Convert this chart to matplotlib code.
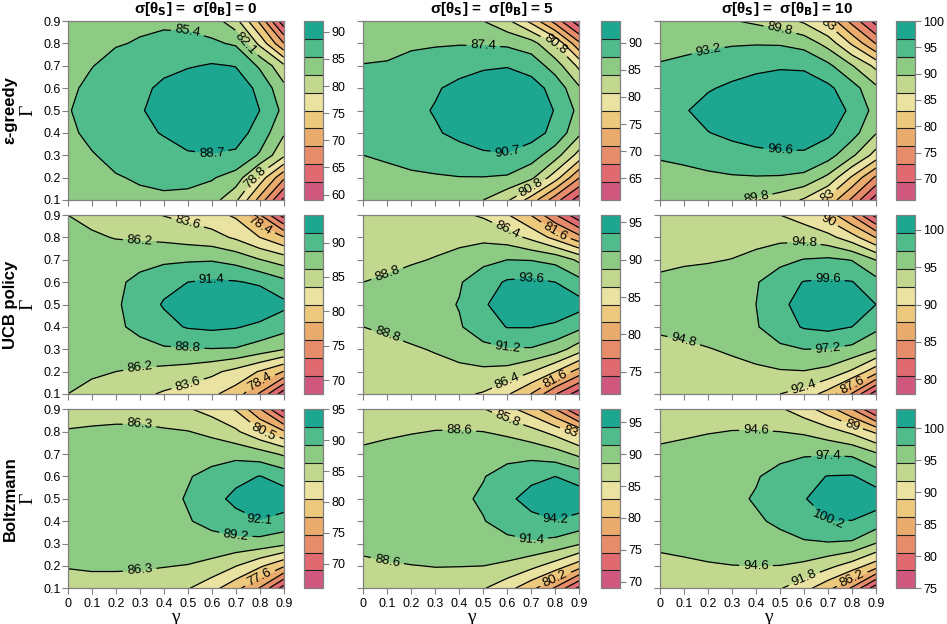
import numpy as np
import matplotlib
matplotlib.use('Agg')
import matplotlib.pyplot as plt

# grid axes
gamma = [0.0, 0.1, 0.2, 0.3, 0.4, 0.5, 0.6, 0.7, 0.8, 0.9]
Gamma = [0.1, 0.2, 0.3, 0.4, 0.5, 0.6, 0.7, 0.8, 0.9]

# rows = Gamma 0.1 .. 0.9, cols = gamma 0 .. 0.9
greedy_s0 = [
    [83.0, 83.8, 84.4, 84.8, 84.9, 84.6, 83.5, 79.5, 71.0, 61.5],
    [83.6, 84.5, 85.2, 85.7, 86.1, 86.2, 85.7, 84.0, 77.5, 69.5],
    [84.3, 85.2, 86.2, 86.9, 87.6, 88.3, 88.5, 88.2, 85.0, 79.5],
    [84.8, 86.1, 87.2, 88.0, 88.9, 90.3, 90.9, 90.0, 87.5, 82.5],
    [85.2, 86.5, 87.5, 88.4, 89.9, 91.3, 92.0, 91.0, 88.7, 84.6],
    [84.8, 86.1, 87.2, 87.9, 89.4, 90.8, 91.4, 90.4, 88.0, 83.0],
    [84.2, 85.3, 86.3, 87.0, 87.8, 88.4, 89.0, 88.6, 84.9, 79.5],
    [83.6, 84.6, 85.2, 85.6, 86.0, 86.1, 85.9, 85.0, 78.0, 69.0],
    [83.0, 84.0, 84.6, 84.9, 85.0, 84.8, 83.8, 80.0, 71.5, 60.0],
]
greedy_s5 = [
    [85.3, 85.7, 85.9, 85.8, 85.2, 84.1, 81.3, 76.0, 69.0, 62.5],
    [86.3, 86.6, 86.9, 87.1, 87.3, 87.3, 87.0, 84.8, 79.0, 71.0],
    [87.4, 87.8, 88.4, 88.9, 89.6, 90.2, 90.4, 89.0, 85.5, 79.5],
    [88.2, 88.9, 89.7, 90.4, 91.4, 92.5, 92.8, 92.0, 89.8, 84.8],
    [88.4, 89.1, 90.0, 90.9, 92.2, 93.3, 94.0, 93.0, 90.5, 86.5],
    [88.0, 88.7, 89.6, 90.4, 91.5, 92.6, 93.0, 92.0, 89.6, 84.5],
    [87.5, 87.6, 88.4, 88.9, 89.6, 90.2, 90.5, 89.5, 85.8, 80.0],
    [86.4, 86.7, 86.9, 87.1, 87.2, 87.1, 86.8, 85.5, 80.5, 71.5],
    [85.5, 86.0, 86.2, 86.0, 85.3, 84.1, 81.5, 76.5, 69.5, 62.0],
]
greedy_s10 = [
    [90.5, 90.6, 90.4, 90.0, 89.4, 88.2, 86.0, 82.0, 75.5, 67.5],
    [91.8, 92.2, 92.6, 92.9, 93.0, 92.9, 92.3, 89.0, 82.5, 75.5],
    [93.6, 94.0, 94.6, 95.2, 95.8, 96.1, 96.2, 94.6, 90.5, 85.0],
    [94.2, 95.3, 96.5, 97.4, 98.0, 98.3, 98.0, 97.2, 94.6, 90.0],
    [95.0, 96.3, 97.8, 98.8, 99.6, 100.0, 99.6, 98.4, 96.0, 92.0],
    [94.5, 95.5, 96.3, 97.2, 98.0, 98.5, 98.3, 97.3, 94.6, 90.5],
    [93.5, 94.0, 94.6, 95.2, 95.8, 96.2, 96.1, 94.0, 90.0, 85.5],
    [91.8, 92.2, 92.6, 92.9, 93.0, 92.9, 92.0, 88.5, 82.5, 76.0],
    [90.8, 90.8, 90.6, 90.0, 89.2, 88.0, 85.8, 82.0, 75.0, 68.0],
]
ucb_s0 = [
    [86.2, 85.6, 85.0, 84.2, 83.3, 82.5, 81.5, 79.8, 75.5, 69.0],
    [86.7, 86.5, 86.2, 85.8, 85.4, 85.0, 84.2, 82.8, 80.8, 78.3],
    [86.6, 87.0, 87.4, 87.9, 88.5, 88.6, 88.7, 88.6, 87.6, 86.3],
    [86.8, 87.4, 88.3, 89.5, 90.6, 91.6, 91.9, 91.6, 90.8, 89.8],
    [87.0, 87.6, 88.4, 90.1, 91.6, 92.8, 93.6, 94.0, 93.4, 92.0],
    [86.8, 87.4, 88.2, 89.6, 90.7, 91.4, 91.8, 91.6, 91.0, 89.5],
    [86.6, 87.0, 87.4, 87.8, 88.3, 88.5, 88.6, 87.9, 86.3, 85.0],
    [86.6, 86.5, 86.1, 85.9, 85.6, 85.1, 84.6, 83.2, 81.0, 78.6],
    [86.2, 85.6, 85.0, 84.3, 83.5, 82.8, 81.9, 80.6, 76.0, 69.5],
]
ucb_s5 = [
    [86.8, 86.9, 87.0, 87.0, 86.8, 86.2, 84.3, 81.5, 77.0, 73.0],
    [87.3, 87.5, 87.7, 87.9, 88.2, 88.3, 88.0, 86.5, 84.0, 80.5],
    [87.8, 88.1, 88.5, 89.0, 89.7, 90.6, 91.0, 91.0, 90.0, 87.5],
    [88.8, 89.2, 89.8, 90.4, 91.0, 92.4, 93.7, 93.7, 93.0, 91.8],
    [89.3, 89.8, 90.3, 90.6, 91.3, 93.3, 94.8, 95.6, 96.0, 94.5],
    [88.8, 89.2, 89.8, 90.4, 91.0, 92.5, 93.9, 94.1, 93.6, 92.0],
    [87.8, 88.1, 88.5, 88.95, 89.6, 90.6, 91.2, 91.1, 90.5, 88.3],
    [87.3, 87.5, 87.7, 87.9, 88.1, 88.2, 87.6, 85.8, 83.2, 80.0],
    [86.8, 86.9, 87.0, 87.0, 86.8, 86.1, 84.2, 81.5, 77.0, 72.5],
]
ucb_s10 = [
    [92.9, 93.0, 93.1, 93.0, 92.8, 92.4, 91.4, 89.0, 85.0, 79.0],
    [93.5, 93.7, 93.9, 94.1, 94.3, 94.6, 94.7, 94.1, 92.0, 88.5],
    [94.1, 94.3, 94.7, 95.1, 95.8, 96.7, 97.2, 97.1, 96.6, 94.95],
    [95.2, 95.5, 95.8, 96.3, 97.0, 98.6, 99.8, 100.2, 99.6, 97.8],
    [95.7, 96.0, 96.3, 96.7, 97.2, 99.0, 100.6, 101.5, 101.2, 99.6],
    [95.2, 95.5, 95.8, 96.3, 97.0, 98.6, 99.7, 99.9, 99.7, 98.0],
    [94.3, 94.5, 94.6, 94.85, 95.4, 96.5, 97.3, 97.6, 97.1, 94.7],
    [93.4, 93.6, 93.8, 93.9, 94.1, 94.2, 94.1, 93.2, 91.0, 87.5],
    [93.0, 93.1, 93.2, 93.2, 93.0, 92.4, 91.2, 89.0, 85.0, 79.5],
]
boltz_s0 = [
    [85.6, 85.7, 85.7, 85.5, 84.9, 83.6, 81.5, 78.5, 74.5, 67.5],
    [86.4, 86.5, 86.5, 86.5, 86.4, 86.2, 85.4, 83.5, 81.0, 78.0],
    [86.8, 86.9, 87.0, 87.2, 87.5, 87.8, 88.1, 88.2, 88.0, 87.0],
    [86.9, 87.1, 87.4, 87.7, 88.2, 89.0, 90.0, 91.0, 91.9, 91.2],
    [87.0, 87.3, 87.6, 87.9, 88.4, 89.4, 91.0, 92.9, 95.0, 93.5],
    [86.9, 87.1, 87.4, 87.7, 88.2, 89.0, 90.0, 91.2, 92.2, 91.0],
    [86.8, 86.9, 87.1, 87.3, 87.6, 87.9, 88.2, 88.4, 87.6, 85.9],
    [86.4, 86.5, 86.6, 86.7, 86.6, 86.4, 85.6, 83.9, 81.0, 78.0],
    [85.6, 85.7, 85.7, 85.5, 84.8, 83.7, 82.3, 80.3, 75.0, 68.0],
]
boltz_s5 = [
    [87.6, 87.8, 87.9, 87.8, 87.3, 86.0, 84.0, 81.0, 77.0, 71.0],
    [88.2, 88.4, 88.55, 88.65, 88.65, 88.6, 88.0, 86.6, 84.5, 81.5],
    [89.1, 89.3, 89.5, 89.7, 90.0, 90.4, 90.8, 91.0, 90.4, 88.9],
    [89.5, 89.7, 89.9, 90.2, 90.7, 91.3, 92.3, 93.3, 94.0, 93.3],
    [89.8, 90.0, 90.2, 90.5, 91.0, 91.7, 93.5, 95.4, 97.0, 95.8],
    [89.5, 89.7, 89.9, 90.2, 90.7, 91.3, 92.3, 93.4, 94.2, 93.0],
    [89.0, 89.2, 89.4, 89.7, 90.0, 90.3, 90.7, 90.6, 89.8, 88.0],
    [88.0, 88.3, 88.5, 88.65, 88.7, 88.6, 88.0, 86.8, 84.8, 82.0],
    [87.6, 87.8, 87.9, 87.8, 87.3, 86.0, 84.0, 81.5, 77.5, 71.5],
]
boltz_s10 = [
    [93.5, 93.7, 93.8, 93.7, 93.1, 92.0, 90.0, 87.0, 83.0, 76.0],
    [94.0, 94.2, 94.4, 94.55, 94.6, 94.55, 94.0, 92.6, 90.5, 87.5],
    [95.0, 95.2, 95.5, 95.8, 96.2, 96.7, 97.1, 97.2, 97.0, 94.5],
    [95.5, 95.8, 96.2, 96.6, 97.1, 97.8, 98.8, 100.1, 100.1, 99.0],
    [95.8, 96.1, 96.5, 96.9, 97.6, 98.7, 100.0, 101.8, 103.0, 101.5],
    [95.5, 95.8, 96.2, 96.6, 97.2, 98.3, 99.4, 100.3, 100.4, 99.0],
    [95.0, 95.2, 95.5, 95.8, 96.2, 96.7, 97.1, 97.2, 97.0, 95.0],
    [94.1, 94.3, 94.5, 94.65, 94.7, 94.6, 94.2, 93.0, 91.2, 88.5],
    [93.5, 93.7, 93.8, 93.7, 93.2, 92.2, 90.3, 87.5, 83.5, 77.5],
]

# colour range (10 bands) of every panel
zlims = [
    [(59.0, 92.0), (61.0, 94.0), (66.0, 100.0)],
    [(68.0, 94.0), (72.0, 96.0), (78.0, 102.0)],
    [(66.0, 95.0), (69.0, 97.0), (75.0, 103.0)],
]

row_names = ['ε-greedy', 'UCB policy', 'Boltzmann']
sigmas = ['0', '5', '10']
grids = [[greedy_s0, greedy_s5, greedy_s10],
         [ucb_s0, ucb_s5, ucb_s10],
         [boltz_s0, boltz_s5, boltz_s10]]

# where the contour labels sit: (level index, gamma, Gamma) -- layout only
label_spots = [
    [[(8, 0.52, 0.838), (9, 0.63, 0.31), (7, 0.746, 0.80), (6, 0.77, 0.167)],
     [(8, 0.52, 0.786), (9, 0.616, 0.338), (6, 0.81, 0.756), (6, 0.706, 0.167)],
     [(7, 0.472, 0.86), (8, 0.18, 0.748), (5, 0.736, 0.867), (9, 0.52, 0.331),
      (7, 0.396, 0.122), (5, 0.736, 0.16)]],
    [[(6, 0.475, 0.848), (4, 0.787, 0.833), (7, 0.274, 0.788), (9, 0.62, 0.61),
      (8, 0.51, 0.319), (7, 0.28, 0.207), (6, 0.475, 0.155), (4, 0.76, 0.155)],
     [(6, 0.575, 0.855), (4, 0.769, 0.848), (7, 0.09, 0.617), (9, 0.70, 0.61),
      (8, 0.616, 0.32), (7, 0.097, 0.371), (6, 0.575, 0.155), (4, 0.769, 0.133)],
     [(5, 0.743, 0.855), (7, 0.611, 0.772), (9, 0.715, 0.61), (8, 0.66, 0.297),
      (7, 0.076, 0.353), (6, 0.583, 0.125), (4, 0.806, 0.163)]],
    [[(7, 0.28, 0.823), (5, 0.822, 0.80), (9, 0.815, 0.447), (8, 0.718, 0.346),
      (7, 0.28, 0.182), (4, 0.787, 0.13)],
     [(7, 0.381, 0.80), (6, 0.575, 0.864), (5, 0.845, 0.775), (9, 0.817, 0.447),
      (8, 0.706, 0.349), (7, 0.083, 0.227), (4, 0.776, 0.13)],
     [(7, 0.417, 0.805), (8, 0.722, 0.674), (5, 0.75, 0.838), (9, 0.743, 0.443),
      (7, 0.417, 0.197), (6, 0.583, 0.137), (4, 0.79, 0.137)]],
]

band_colors = ['#D0587E', '#E06A70', '#E78C6A', '#EAAC6C', '#EDC97D',
               '#EAE2A0', '#C2D88E', '#8DCA83', '#50BB8B', '#1DA690']
frame_col = '#808080'

plt.rcParams['font.family'] = ['Liberation Sans', 'DejaVu Sans']

W, H = 947, 624
fig = plt.figure(figsize=(W / 100, H / 100), dpi=100)


def fbox(x, y, w, h):
    return [x / W, 1 - (y + h) / H, w / W, h / H]


def snap(ax, cs, k, gx, gy):
    # nearest vertex of the wanted level's line to the wanted spot
    v = cs.get_paths()[k - 1].vertices
    d = ax.transData.transform(v) - ax.transData.transform((gx, gy))
    best = v[np.argmin(np.hypot(d[:, 0], d[:, 1]))]
    return (best[0], best[1])


ax_left = [67.7, 363.3, 660.0]
ax_top = [21.0, 215.0, 409.3]
ax_w, ax_h = 216.0, 179.0
cb_left = [304.3, 600.6, 896.0]
cb_w = 19.0

for i in range(3):
    for j in range(3):
        z = np.array(grids[i][j])
        lo, hi = zlims[i][j]
        levels = np.linspace(lo, hi, 11)

        ax = fig.add_axes(fbox(ax_left[j], ax_top[i], ax_w, ax_h))
        cf = ax.contourf(gamma, Gamma, z, levels=levels, colors=band_colors)
        cs = ax.contour(gamma, Gamma, z, levels=levels[1:-1], colors='black', linewidths=0.9)
        ax.set_xlim(0, 0.9)
        ax.set_ylim(0.1, 0.9)
        spots = [snap(ax, cs, k, gx, gy) for k, gx, gy in label_spots[i][j]]
        ax.clabel(cs, levels=cs.levels, manual=spots, inline=True,
                  inline_spacing=4, fontsize=9.5, fmt=lambda v: f'{round(v, 1):g}')

        ax.set_xticks(gamma)
        ax.set_yticks(Gamma)
        ax.tick_params(length=4, width=0.8, color=frame_col, labelsize=9, pad=1)
        for s in ax.spines.values():
            s.set_color(frame_col)
            s.set_linewidth(0.9)
        if i == 2:
            ax.set_xticklabels([f'{v:g}' for v in gamma])
            ax.tick_params(axis='x', pad=3)
            ax.set_xlabel('γ', family=['Liberation Serif', 'DejaVu Serif'], fontsize=14, labelpad=-1)
        else:
            ax.set_xticklabels([])
        if j == 0:
            ax.set_yticklabels([f'{v:g}' for v in Gamma])
        else:
            ax.set_yticklabels([])

        cax = fig.add_axes(fbox(cb_left[j], ax_top[i], cb_w, ax_h))
        cb = fig.colorbar(cf, cax=cax, drawedges=True)
        cb.outline.set_edgecolor(frame_col)
        cb.outline.set_linewidth(0.9)
        cb.dividers.set_color('#222222')
        cb.dividers.set_linewidth(0.8)
        cb.set_ticks([t for t in range(50, 110, 5) if lo <= t <= hi])
        cax.tick_params(length=4, width=0.8, color=frame_col, labelsize=9, pad=2)

# column titles
for j in range(3):
    xc = (ax_left[j] + cb_left[j] + cb_w) / 2
    fig.text(xc / W, 1 - 9 / H,
             'σ[θ$_\\mathbf{S}$] =  σ[θ$_\\mathbf{B}$] = ' + sigmas[j],
             ha='center', va='center', fontsize=11, fontweight='bold')

# row labels
for i in range(3):
    yc = ax_top[i] + ax_h / 2
    fig.text(10 / W, 1 - yc / H, row_names[i], rotation=90, ha='center', va='center',
             fontsize=12, fontweight='bold')
    fig.text(28 / W, 1 - yc / H, 'Γ', rotation=90, ha='center', va='center',
             fontsize=14, family=['Liberation Serif', 'DejaVu Serif'])

fig.savefig('out.png', dpi=100)
